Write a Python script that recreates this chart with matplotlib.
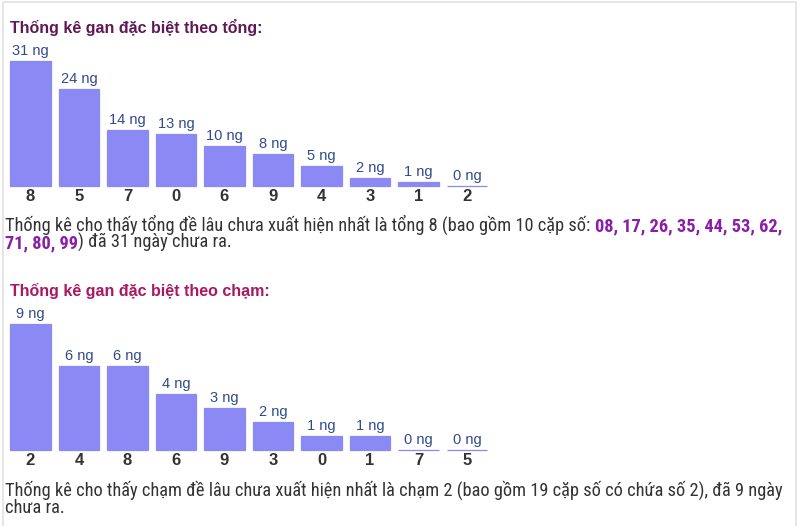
import matplotlib
matplotlib.use('Agg')
import matplotlib.pyplot as plt
from matplotlib import font_manager
from matplotlib.patches import Rectangle

# ---- du lieu ----
tong_labels = ['8', '5', '7', '0', '6', '9', '4', '3', '1', '2']
tong_days = [31, 24, 14, 13, 10, 8, 5, 2, 1, 0]
cham_labels = ['2', '4', '8', '6', '9', '3', '0', '1', '7', '5']
cham_days = [9, 6, 6, 4, 3, 2, 1, 1, 0, 0]
tong_pairs = ['08', '17', '26', '35', '44', '53', '62', '71', '80', '99']
cham_pair_count = 19

title_tong = 'Thống kê gan đặc biệt theo tổng:'
title_cham = 'Thống kê gan đặc biệt theo chạm:'

# ---- mau / font ----
BAR = '#8b89f4'
VAL = '#2f4b8c'
TXT = '#333333'
PURPLE = '#8a1ea6'
TITLE1 = '#5f1a55'
TITLE2 = '#aa1862'

_fonts = font_manager.fontManager.ttflist
_names = {f.name for f in _fonts}
STRETCH = 'normal'
NARROW = 'Roboto'
for cand in ['Liberation Sans Narrow', 'Arial Narrow', 'Roboto Condensed']:
    if cand in _names:
        NARROW = cand
        break
else:
    if any(f.name == 'DejaVu Sans' and f.stretch == 'condensed' for f in _fonts):
        NARROW, STRETCH = 'DejaVu Sans', 'condensed'
ARIAL = ['Liberation Sans', 'DejaVu Sans']
NARR = [NARROW, 'Liberation Sans', 'DejaVu Sans']

W, H = 800, 526
fig = plt.figure(figsize=(W / 100, H / 100), dpi=100)
fig.patch.set_facecolor('white')

bg = fig.add_axes([0, 0, 1, 1])
bg.set_xlim(0, W)
bg.set_ylim(H, 0)
bg.axis('off')
bg.add_patch(Rectangle((2.5, 1.5), 793, 530, fill=False, edgecolor='#e2e2e2', lw=1.2))


def px_axes(x0, y0, x1, y1):
    ax = fig.add_axes([x0 / W, 1 - y1 / H, (x1 - x0) / W, (y1 - y0) / H])
    ax.patch.set_alpha(0)
    return ax


def draw_bars(ax, labels, values, ymax):
    x = list(range(len(values)))
    ax.bar(x, values, width=0.83, color=BAR, edgecolor=BAR, linewidth=0.9, clip_on=False)
    ax.set_xlim(-0.5, len(values) - 0.5)
    ax.set_ylim(0, ymax)
    for s in ax.spines.values():
        s.set_visible(False)
    ax.set_yticks([])
    ax.set_xticks(x, labels=labels)
    for lab in ax.get_xticklabels():
        lab.set_fontsize(12)
        lab.set_fontweight('bold')
        lab.set_color(TXT)
        lab.set_family(ARIAL)
    ax.tick_params(axis='x', length=0, pad=2.5)
    for i, v in enumerate(values):
        ax.annotate(f'{v} ng', (i, v), xytext=(0, 3), textcoords='offset pixels',
                    ha='center', va='bottom', fontsize=10.5, color=VAL, family=ARIAL)


# bieu do theo tong: day o y=186px, 4.03 px / ngay
ax1 = px_axes(6.25, 186 - 129, 491.25, 186)
draw_bars(ax1, tong_labels, tong_days, 129 / 4.03)
# bieu do theo cham: day o y=450px, 14 px / ngay
ax2 = px_axes(6.25, 450 - 133, 491.25, 450)
draw_bars(ax2, cham_labels, cham_days, 133 / 14)

bg.text(10, 27, title_tong, fontsize=11.5, fontweight='bold', color=TITLE1,
        va='center', ha='left', family=ARIAL)
bg.text(10, 291, title_cham, fontsize=11.5, fontweight='bold', color=TITLE2,
        va='center', ha='left', family=ARIAL)

# ---- doan van ----
p1_head = (f'Thống kê cho thấy tổng đề lâu chưa xuất hiện nhất là tổng {tong_labels[0]} '
           f'(bao gồm {len(tong_pairs)} cặp số:')
p1_pairs_a = ', '.join(tong_pairs[:7]) + ','
p1_pairs_b = ', '.join(tong_pairs[7:])
p1_tail = f') đã {tong_days[0]} ngày chưa ra.'
p2_line1 = (f'Thống kê cho thấy chạm đề lâu chưa xuất hiện nhất là chạm {cham_labels[0]} '
            f'(bao gồm {cham_pair_count} cặp số có chứa số {cham_labels[0]}), '
            f'đã {cham_days[0]} ngày')
p2_line2 = 'chưa ra.'

# co chu sao cho dong 1 dai tu x=5 den x=780
renderer = fig.canvas.get_renderer()
pa = bg.text(0, 0, p1_head, fontsize=10, family=NARR, fontstretch=STRETCH)
pb = bg.text(0, 0, p1_pairs_a, fontsize=10, family=NARR, fontstretch=STRETCH,
             fontweight='bold')
w = pa.get_window_extent(renderer).width + pb.get_window_extent(renderer).width
pa.remove()
pb.remove()
PS = 10 * (775 - 5) / w


def text_run(x, y, parts):
    s, c, wgt, _ = parts[0]
    t = bg.text(x, y, s, fontsize=PS, color=c, fontweight=wgt, va='baseline',
                ha='left', family=NARR, fontstretch=STRETCH)
    for s, c, wgt, gap in parts[1:]:
        t = bg.annotate(s, xy=(1, 0), xycoords=t, xytext=(gap, 0),
                        textcoords='offset pixels', va='bottom', ha='left',
                        fontsize=PS, color=c, fontweight=wgt, family=NARR,
                        fontstretch=STRETCH)
    return t


text_run(5, 231, [(p1_head, TXT, 'normal', 0), (p1_pairs_a, PURPLE, 'bold', 5)])
text_run(5, 248, [(p1_pairs_b, PURPLE, 'bold', 0), (p1_tail, TXT, 'normal', 0)])
text_run(5, 496, [(p2_line1, TXT, 'normal', 0)])
text_run(5, 513, [(p2_line2, TXT, 'normal', 0)])

fig.savefig('out.png', dpi=100)
